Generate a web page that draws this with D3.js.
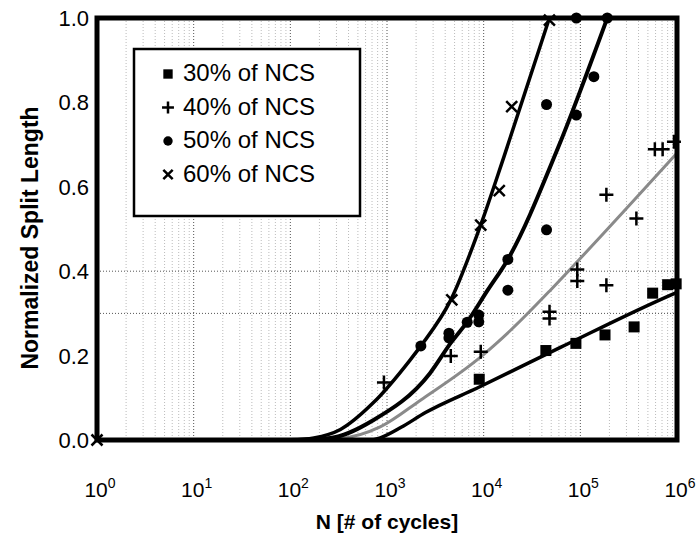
<!DOCTYPE html>
<meta charset="utf-8">
<style>
    body { margin: 0; background: #fff; }
    text { font-family: "Liberation Sans", Arial, Helvetica, sans-serif; fill: #000; }
    .grid line { stroke: #777; stroke-width: 1; stroke-dasharray: 1,2; }
</style>
<title>Normalized Split Length vs cycles</title>
<script src="https://d3js.org/d3.v7.min.js"></script>
<body>
<div id="chart"></div>
<script>
    // series labels
    var seriesNames = ["30% of NCS", "40% of NCS", "50% of NCS", "60% of NCS"];
    var markerTypes = ["square", "plus", "circle", "cross"];

    // measured points [N, normalized split length]
    var pts30 = [[9000, .144], [44000, .212], [90000, .229], [180000, .249], [360000, .268],
                 [560000, .348], [800000, .368], [980000, .37]];
    var pts40 = [[930, .136], [4570, .199], [9330, .209], [48000, .304], [48000, .288],
                 [93000, .404], [93000, .377], [186000, .367], [186000, .581], [380000, .525],
                 [590000, .689], [710000, .689], [930000, .707]];
    var pts50 = [[2240, .223], [4370, .253], [4370, .242], [6760, .279], [8900, .296],
                 [8900, .280], [17800, .355], [17800, .428], [44700, .498], [44700, .795],
                 [91000, .77], [138000, .861], [91000, 1.0], [190000, 1.0]];
    var pts60 = [[1, 0], [4680, .332], [9330, .509], [14500, .591], [19500, .79], [47900, .995]];

    // fitted curves [N, value]
    var fit30 = [[100, 0], [700, 0], [850, .005], [1400, .03], [2500, .065], [8900, .125],
                 [63000, .22], [870000, .344], [1000000, .35]];
    var fit40 = [[100, 0], [330, .004], [850, .031], [2240, .095], [9330, .197], [19000, .26],
                 [49000, .355], [93300, .423], [1000000, .68]];
    var fit50 = [[100, 0], [260, .005], [720, .047], [2800, .159], [4570, .23], [6760, .28],
                 [11000, .355], [17800, .428], [57500, .687], [190000, 1.0]];
    var fit60 = [[100, 0], [175, .005], [330, .025], [720, .088], [1740, .19], [2240, .223],
                 [4570, .332], [9330, .51], [16200, .671], [47900, 1.0]];

    var yTicks = [0, 0.2, 0.4, 0.6, 0.8, 1.0];
    var xDecades = [0, 1, 2, 3, 4, 5, 6];
    var yGridLines = [0.3, 0.4];

    var canvasWidth = 699, canvasHeight = 542;
    var svg = d3.select("#chart").append("svg")
        .attr("width", canvasWidth)
        .attr("height", canvasHeight);

    var x = d3.scaleLog().domain([1, 1e6]).range([97, 677]),
        y = d3.scaleLinear().domain([0, 1]).range([440, 18]);

    // grid
    var grid = svg.append("g").attr("class", "grid");
    var minor = [];
    xDecades.slice(0, -1).forEach(function(e) {
        for (var k = 2; k < 10; k++) minor.push(k * Math.pow(10, e));
    });
    grid.selectAll(".minor").data(minor).enter().append("line")
        .attr("x1", d => x(d)).attr("x2", d => x(d))
        .attr("y1", y(1)).attr("y2", y(0))
        .style("stroke", "#bbb");
    grid.selectAll(".major").data(xDecades).enter().append("line")
        .attr("x1", d => x(Math.pow(10, d))).attr("x2", d => x(Math.pow(10, d)))
        .attr("y1", y(1)).attr("y2", y(0))
        .style("stroke", "#555");
    grid.selectAll(".hgrid").data(yGridLines).enter().append("line")
        .attr("x1", x(1)).attr("x2", x(1e6))
        .attr("y1", d => y(d)).attr("y2", d => y(d))
        .style("stroke", "#555");

    // fitted lines
    var line = d3.line()
        .curve(d3.curveMonotoneX)
        .x(d => x(d[0]))
        .y(d => y(d[1]));

    var fits = [
        {data: fit30, color: "#000", width: 3.5},
        {data: fit40, color: "#8a8a8a", width: 3},
        {data: fit50, color: "#000", width: 4},
        {data: fit60, color: "#000", width: 3.5}
    ];
    svg.selectAll(".fit").data(fits).enter().append("path")
        .attr("class", "fit")
        .attr("d", d => line(d.data))
        .attr("fill", "none")
        .attr("stroke", d => d.color)
        .attr("stroke-width", d => d.width);

    // frame
    svg.append("rect")
        .attr("x", x(1)).attr("y", y(1))
        .attr("width", x(1e6) - x(1)).attr("height", y(0) - y(1))
        .attr("fill", "none").attr("stroke", "#000").attr("stroke-width", 5);

    function marker(g, type, cx, cy, s) {
        s = s || 1;
        if (type == "square") {
            g.append("rect").attr("x", cx - 5.5 * s).attr("y", cy - 5.5 * s)
                .attr("width", 11 * s).attr("height", 11 * s).attr("fill", "#000");
        } else if (type == "circle") {
            g.append("circle").attr("cx", cx).attr("cy", cy).attr("r", 5.5 * s).attr("fill", "#000");
        } else if (type == "plus") {
            var a = 7 * s;
            g.append("path").attr("d", "M" + (cx - a) + "," + cy + "H" + (cx + a) + "M" + cx + "," + (cy - a) + "V" + (cy + a))
                .attr("stroke", "#000").attr("stroke-width", 2.5);
        } else {
            var b = 5.5 * s;
            g.append("path").attr("d", "M" + (cx - b) + "," + (cy - b) + "L" + (cx + b) + "," + (cy + b) +
                "M" + (cx - b) + "," + (cy + b) + "L" + (cx + b) + "," + (cy - b))
                .attr("stroke", "#000").attr("stroke-width", 2.5);
        }
    }

    var allPts = [pts30, pts40, pts50, pts60];
    var markG = svg.append("g");
    allPts.forEach(function(pts, i) {
        pts.forEach(function(p) { marker(markG, markerTypes[i], x(p[0]), y(p[1])); });
    });

    // y tick labels
    svg.selectAll(".ylab").data(yTicks).enter().append("text")
        .attr("x", 89).attr("y", d => y(d) + 8)
        .attr("text-anchor", "end")
        .style("font-size", "22px")
        .text(d => d.toFixed(1));

    // x tick labels
    var xl = svg.selectAll(".xlab").data(xDecades).enter().append("text")
        .attr("x", d => x(Math.pow(10, d)) + 3).attr("y", 497)
        .attr("text-anchor", "middle")
        .style("font-size", "21px");
    xl.append("tspan").text("10");
    xl.append("tspan").attr("dy", -9).style("font-size", "14px").text(d => d);

    // axis titles
    svg.append("text")
        .attr("x", 387).attr("y", 529)
        .attr("text-anchor", "middle")
        .style("font-size", "21px").style("font-weight", "bold")
        .text("N [# of cycles]");
    svg.append("text")
        .attr("transform", "translate(38,238) rotate(-90)")
        .attr("text-anchor", "middle")
        .style("font-size", "23px").style("font-weight", "bold")
        .text("Normalized Split Length");

    // legend
    var leg = svg.append("g");
    leg.append("rect").attr("x", 134).attr("y", 49).attr("width", 226).attr("height", 167)
        .attr("fill", "#fff").attr("stroke", "#000").attr("stroke-width", 2.5);
    seriesNames.forEach(function(name, i) {
        var ly = 81 + i * 33.5;
        marker(leg, markerTypes[i], 168, ly - 7, 0.85);
        leg.append("text").attr("x", 183).attr("y", ly)
            .style("font-size", "24px")
            .text(name);
    });
</script>
</body>
